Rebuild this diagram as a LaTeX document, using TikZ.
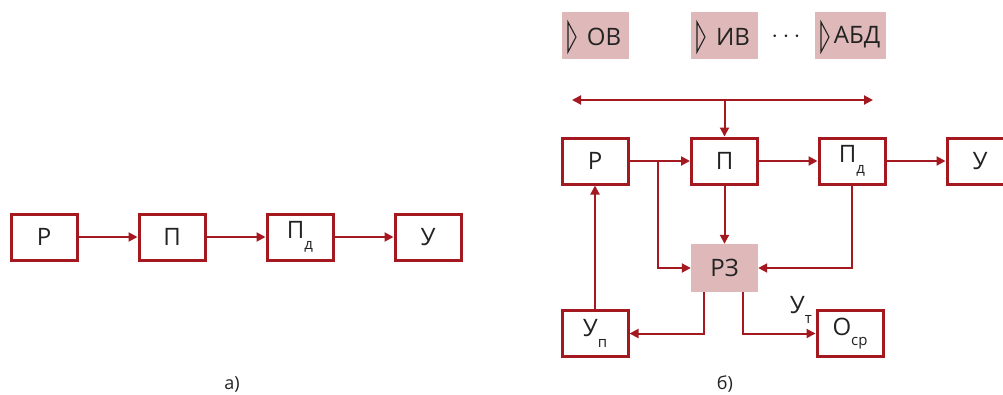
\documentclass[tikz,border=0pt]{standalone}
\usepackage{fontspec}
\setmainfont{Open Sans}
\usetikzlibrary{arrows.meta}
\definecolor{dred}{HTML}{A3191F}
\definecolor{pinkf}{HTML}{DFB9B9}
\definecolor{txt}{HTML}{222222}
\newcommand{\sbx}[1]{\raisebox{-0.45em}{\fontsize{15}{15}\selectfont #1}}
\tikzset{
  blk/.style={draw=dred, line width=3pt, minimum width=66pt, minimum height=46pt, inner sep=0pt, text=txt, font=\fontsize{24}{24}\selectfont},
  pbox/.style={fill=pinkf, minimum width=67pt, minimum height=47pt, inner sep=0pt, text=txt, font=\fontsize{24}{24}\selectfont},
  lbl/.style={inner sep=0pt, text=txt, font=\fontsize{24}{24}\selectfont},
  con/.style={draw=dred, line width=2pt, -{Triangle[length=9pt,width=9pt]}},
  conn/.style={draw=dred, line width=2pt},
  tri/.style={draw=txt, line width=1.1pt, line join=miter},
}
\begin{document}
\begin{tikzpicture}[x=1pt,y=-1pt]
\useasboundingbox (0,0) rectangle (1003,394);
% ---- a)
\node[blk] (aR) at (44,237) {Р};
\node[blk] (aP) at (172,237) {П};
\node[blk] (aPd) at (300,237) {П\sbx{д}};
\node[blk] (aU) at (428,237) {У};
\draw[con] (aR) -- (aP);
\draw[con] (aP) -- (aPd);
\draw[con] (aPd) -- (aU);
\node[lbl, font=\fontsize{18}{18}\selectfont] (la) at (232,384) {а)};
% ---- b) top boxes
\node[pbox] (ov) at (595.5,35.5) {};
\node[pbox] (iv) at (724.5,35.5) {};
\node[pbox, minimum width=71pt] (abd) at (850.5,35.5) {};
\node[lbl] (tov) at (604,37) {ОВ};
\node[lbl] (tiv) at (733,37) {ИВ};
\node[lbl] (tabd) at (857,37) {АБД};
\draw[tri] (568,22) -- (576,37) -- (568,52) -- cycle;
\draw[tri] (697,22) -- (705,37) -- (697,52) -- cycle;
\draw[tri] (821,22) -- (829,37) -- (821,52) -- cycle;
\node[lbl, font=\fontsize{24}{24}\selectfont] (dots) at (786,37) {$\cdots$};
% ---- b) main
\node[blk] (R) at (595,161) {Р};
\node[blk] (P) at (724.5,161) {П};
\node[blk] (Pd) at (852,161) {П\sbx{д}};
\node[blk] (U) at (980,161) {У};
\node[pbox, minimum height=48pt] (RZ) at (724.5,268) {РЗ};
\node[blk] (Up) at (595,333.5) {У\sbx{п}};
\node[blk] (Osr) at (850,333.5) {О\sbx{ср}};
\coordinate (busL) at (572,100);
\coordinate (busR) at (873,100);
\coordinate (busM) at (724.5,100);
\draw[conn, {Triangle[length=9pt,width=9pt]}-{Triangle[length=9pt,width=9pt]}] (busL) -- (busR);
\draw[con] (busM) -- (P.north);
\draw[con] (R) -- (P);
\draw[con] (P) -- (Pd);
\draw[con] (Pd) -- (U);
\draw[con] (P) -- (RZ);
\coordinate (br) at (658,161);
\draw[con] (br) |- (RZ.west);
\draw[con] (Pd.south) |- (RZ.east);
\draw[con] (Up) -- (R);
\draw[con] ([xshift=-20.5pt]RZ.south) |- (Up.east);
\draw[con] ([xshift=18.5pt]RZ.south) |- (Osr.west);
\node[lbl, anchor=south east] (ut) at (812,324) {У\sbx{т}};
\node[lbl, font=\fontsize{18}{18}\selectfont] (lb) at (725,384) {б)};
\end{tikzpicture}
\end{document}
